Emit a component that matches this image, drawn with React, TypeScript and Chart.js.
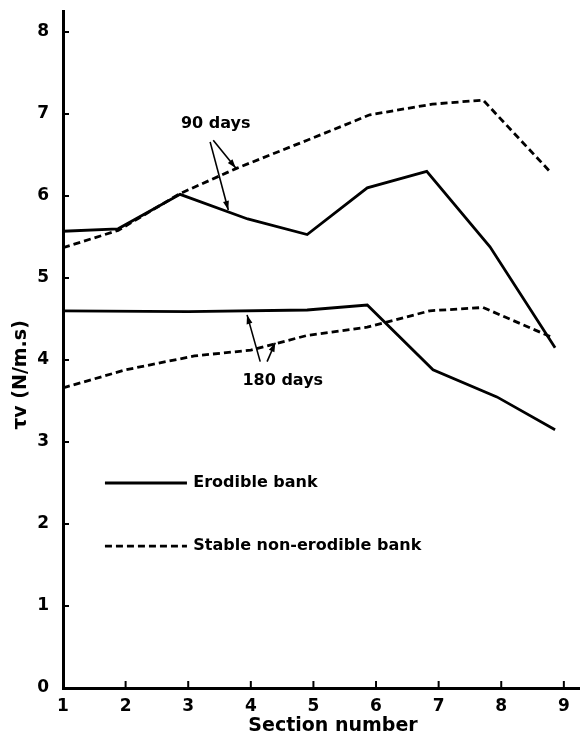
import { useEffect, useRef } from "react";
import { Chart, registerables } from "chart.js";

Chart.register(...registerables);

// Axis ticks
const SECTION_TICKS = [1, 2, 3, 4, 5, 6, 7, 8, 9];
const TV_TICKS = [0, 1, 2, 3, 4, 5, 6, 7, 8];

// Erodible bank, 90 days
const erodible90X = [1.0, 1.88, 2.87, 3.95, 4.9, 5.86, 6.81, 7.82, 8.86];
const erodible90Y = [5.57, 5.6, 6.02, 5.72, 5.53, 6.1, 6.3, 5.38, 4.15];

// Stable non-erodible bank, 90 days
const stable90X = [1.0, 1.88, 2.87, 3.78, 4.9, 5.9, 6.9, 7.71, 8.8];
const stable90Y = [5.37, 5.58, 6.03, 6.34, 6.68, 6.99, 7.12, 7.17, 6.28];

// Erodible bank, 180 days
const erodible180X = [1.0, 3.0, 4.9, 5.86, 6.91, 7.93, 8.86];
const erodible180Y = [4.6, 4.59, 4.61, 4.67, 3.88, 3.55, 3.15];

// Stable non-erodible bank, 180 days
const stable180X = [1.0, 2.0, 3.1, 4.0, 4.9, 5.86, 6.86, 7.71, 8.83];
const stable180Y = [3.66, 3.88, 4.05, 4.12, 4.3, 4.4, 4.6, 4.64, 4.27];

// Callout labels (text, anchor in section / τv units)
const CALLOUT_TEXT = ["90 days", "180 days"];
const CALLOUT_X = [3.44, 4.51];
const CALLOUT_Y = [6.88, 3.74];

// Callout arrows: [fromX, fromY, toX, toY]
const ARROWS_90 = [
  [3.35, 6.66, 3.64, 5.83],
  [3.4, 6.68, 3.76, 6.34],
];
const ARROWS_180 = [
  [4.15, 3.98, 3.94, 4.55],
  [4.26, 3.98, 4.39, 4.21],
];

// Key
const KEY_TEXT = ["Erodible bank", "Stable non-erodible bank"];
const KEY_Y = [2.5, 1.73];
const KEY_X0 = 1.67;
const KEY_X1 = 2.98;
const KEY_TEXT_X = 3.08;

const X_TITLE = "Section number";
const Y_TITLE = "τv (N/m.s)";

const FONT = "'DejaVu Sans', 'Liberation Sans', sans-serif";
const DASH = [7, 4];

const zip = (xs: number[], ys: number[]) => xs.map((x, i) => ({ x, y: ys[i] }));

const overlay = {
  id: "overlay",
  afterDraw(chart: any) {
    const { ctx, chartArea } = chart;
    const xs = chart.scales.x;
    const ys = chart.scales.y;
    const px = (v: number) => xs.getPixelForValue(v);
    const py = (v: number) => ys.getPixelForValue(v);
    ctx.save();
    ctx.strokeStyle = "#000";
    ctx.fillStyle = "#000";

    // inward tick marks
    ctx.lineWidth = 2;
    TV_TICKS.forEach((v) => {
      if (v === 0) return;
      ctx.beginPath();
      ctx.moveTo(chartArea.left, py(v));
      ctx.lineTo(chartArea.left + 6, py(v));
      ctx.stroke();
    });
    SECTION_TICKS.forEach((v, i) => {
      if (i === 0) return;
      ctx.beginPath();
      ctx.moveTo(px(v), chartArea.bottom);
      ctx.lineTo(px(v), chartArea.bottom - 7);
      ctx.stroke();
    });

    // arrows
    const arrow = (a: number[]) => {
      const x0 = px(a[0]), y0 = py(a[1]), x1 = px(a[2]), y1 = py(a[3]);
      ctx.lineWidth = 1.6;
      ctx.beginPath();
      ctx.moveTo(x0, y0);
      ctx.lineTo(x1, y1);
      ctx.stroke();
      const ang = Math.atan2(y1 - y0, x1 - x0);
      const L = 9, W = 3;
      ctx.beginPath();
      ctx.moveTo(x1, y1);
      ctx.lineTo(x1 - L * Math.cos(ang) + W * Math.sin(ang), y1 - L * Math.sin(ang) - W * Math.cos(ang));
      ctx.lineTo(x1 - L * Math.cos(ang) - W * Math.sin(ang), y1 - L * Math.sin(ang) + W * Math.cos(ang));
      ctx.closePath();
      ctx.fill();
    };
    ARROWS_90.forEach(arrow);
    ARROWS_180.forEach(arrow);

    // callout labels
    ctx.font = `bold 16px ${FONT}`;
    ctx.textAlign = "center";
    ctx.textBaseline = "middle";
    CALLOUT_TEXT.forEach((t, i) => ctx.fillText(t, px(CALLOUT_X[i]), py(CALLOUT_Y[i])));

    // key
    KEY_TEXT.forEach((t, i) => {
      const yy = py(KEY_Y[i]);
      ctx.lineWidth = 2.8;
      ctx.setLineDash(i === 0 ? [] : DASH);
      ctx.beginPath();
      ctx.moveTo(px(KEY_X0), yy);
      ctx.lineTo(px(KEY_X1), yy);
      ctx.stroke();
      ctx.setLineDash([]);
      ctx.textAlign = "left";
      ctx.fillText(t, px(KEY_TEXT_X), yy);
    });

    // axis titles
    ctx.font = `bold 19px ${FONT}`;
    ctx.textAlign = "center";
    ctx.textBaseline = "middle";
    ctx.fillText(X_TITLE, 333, 726);
    ctx.translate(21, 375);
    ctx.rotate(-Math.PI / 2);
    ctx.fillText(Y_TITLE, 0, 0);
    ctx.restore();
  },
};

export default function App() {
  const ref = useRef<HTMLCanvasElement | null>(null);

  useEffect(() => {
    if (!ref.current) return;
    const solid = { borderColor: "#000", borderWidth: 2.8, pointRadius: 0, fill: false, tension: 0 };
    const dashed = { ...solid, borderDash: DASH };
    const chart = new Chart(ref.current, {
      type: "line",
      data: {
        datasets: [
          { label: "Erodible bank 90 days", data: zip(erodible90X, erodible90Y), ...solid },
          { label: "Stable non-erodible bank 90 days", data: zip(stable90X, stable90Y), ...dashed },
          { label: "Erodible bank 180 days", data: zip(erodible180X, erodible180Y), ...solid },
          { label: "Stable non-erodible bank 180 days", data: zip(stable180X, stable180Y), ...dashed },
        ],
      },
      options: {
        animation: false,
        responsive: false,
        events: [],
        layout: { padding: { left: 0, top: 11.5, right: 1.5, bottom: 0 } },
        plugins: { legend: { display: false }, tooltip: { enabled: false } },
        scales: {
          x: {
            type: "linear",
            min: 1,
            max: 9.25,
            afterBuildTicks: (s: any) => { s.ticks = SECTION_TICKS.map((v) => ({ value: v })); },
            afterFit: (s: any) => {
              s.height = 51;
              s.paddingLeft = 0;
              s.paddingRight = 0;
            },
            grid: { display: false, drawTicks: false },
            border: { display: true, color: "#000", width: 3 },
            ticks: {
              color: "#000",
              font: { family: FONT, size: 17, weight: "bold" },
              padding: 8,
              maxRotation: 0,
              autoSkip: false,
            },
          },
          y: {
            type: "linear",
            min: 0,
            max: 8.25,
            afterBuildTicks: (s: any) => { s.ticks = TV_TICKS.map((v) => ({ value: v })); },
            afterFit: (s: any) => {
              s.width = 63;
              s.paddingTop = 0;
              s.paddingBottom = 0;
            },
            grid: { display: false, drawTicks: false },
            border: { display: true, color: "#000", width: 3 },
            ticks: {
              color: "#000",
              font: { family: FONT, size: 17, weight: "bold" },
              padding: 14,
              autoSkip: false,
            },
          },
        },
      },
      plugins: [overlay],
    } as any);
    return () => chart.destroy();
  }, []);

  return (
    <div style={{ position: "absolute", left: 0, top: 0, width: 581, height: 739, background: "#fff" }}>
      <canvas ref={ref} width={581} height={739} />
    </div>
  );
}
